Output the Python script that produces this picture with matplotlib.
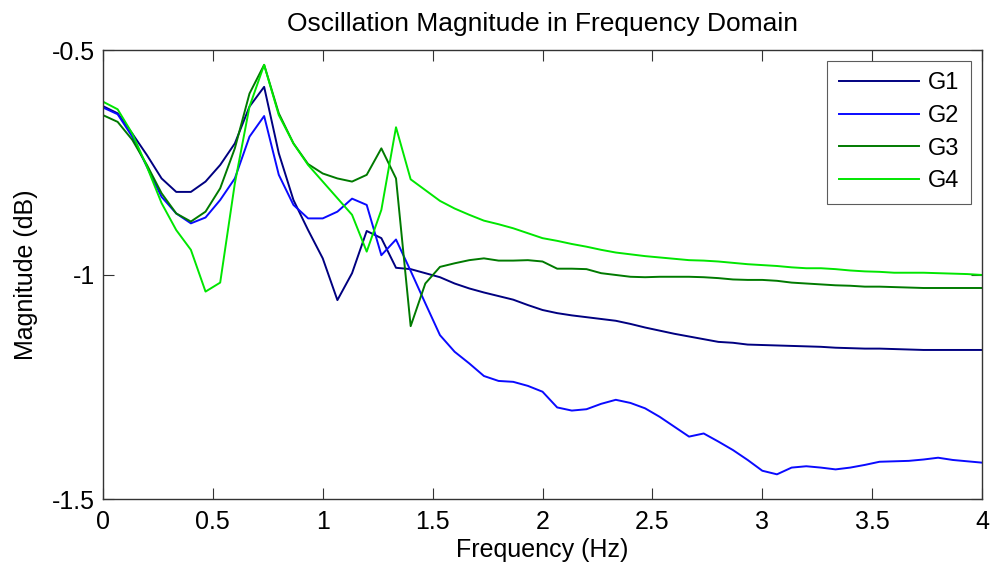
import numpy as np
import matplotlib
matplotlib.use('Agg')
import matplotlib.pyplot as plt

# frequency samples (1/15 Hz spacing, 0..4 Hz)
freq = np.arange(61) / 15.0

g1 = [-0.625, -0.641, -0.686, -0.734, -0.786, -0.816, -0.816, -0.793, -0.756, -0.708,
      -0.626, -0.582, -0.730, -0.834, -0.901, -0.964, -1.057, -0.997, -0.903, -0.919,
      -0.985, -0.988, -0.997, -1.006, -1.020, -1.031, -1.040, -1.048, -1.056, -1.068,
      -1.079, -1.086, -1.091, -1.095, -1.099, -1.103, -1.110, -1.118, -1.125, -1.132,
      -1.138, -1.144, -1.150, -1.152, -1.156, -1.157, -1.158, -1.159, -1.160, -1.161,
      -1.163, -1.164, -1.165, -1.165, -1.166, -1.167, -1.168, -1.168, -1.168, -1.168,
      -1.168]

g2 = [-0.628, -0.643, -0.693, -0.760, -0.827, -0.864, -0.886, -0.873, -0.834, -0.786,
      -0.693, -0.647, -0.778, -0.845, -0.875, -0.875, -0.860, -0.831, -0.845, -0.957,
      -0.922, -0.992, -1.064, -1.135, -1.172, -1.198, -1.226, -1.237, -1.239, -1.248,
      -1.261, -1.296, -1.303, -1.300, -1.288, -1.279, -1.286, -1.298, -1.317, -1.339,
      -1.361, -1.354, -1.372, -1.391, -1.413, -1.437, -1.445, -1.430, -1.427, -1.430,
      -1.434, -1.430, -1.424, -1.417, -1.416, -1.415, -1.412, -1.408, -1.413, -1.416,
      -1.419]

g3 = [-0.645, -0.660, -0.700, -0.756, -0.819, -0.864, -0.882, -0.860, -0.808, -0.719,
      -0.597, -0.533, -0.641, -0.708, -0.754, -0.775, -0.786, -0.793, -0.778, -0.719,
      -0.786, -1.115, -1.020, -0.983, -0.975, -0.968, -0.964, -0.969, -0.969, -0.968,
      -0.971, -0.987, -0.987, -0.988, -0.997, -1.001, -1.005, -1.006, -1.005, -1.005,
      -1.005, -1.006, -1.008, -1.011, -1.012, -1.012, -1.014, -1.018, -1.020, -1.022,
      -1.024, -1.025, -1.027, -1.027, -1.028, -1.029, -1.030, -1.030, -1.030, -1.030,
      -1.030]

g4 = [-0.615, -0.632, -0.686, -0.760, -0.841, -0.901, -0.945, -1.038, -1.018, -0.797,
      -0.626, -0.533, -0.645, -0.708, -0.756, -0.793, -0.830, -0.867, -0.949, -0.856,
      -0.672, -0.788, -0.812, -0.836, -0.853, -0.867, -0.880, -0.888, -0.897, -0.908,
      -0.919, -0.925, -0.932, -0.938, -0.945, -0.951, -0.955, -0.959, -0.962, -0.965,
      -0.968, -0.969, -0.971, -0.974, -0.977, -0.979, -0.981, -0.984, -0.986, -0.986,
      -0.988, -0.991, -0.993, -0.994, -0.996, -0.996, -0.996, -0.997, -0.998, -0.999,
      -1.001]

series = [g1, g2, g3, g4]
names = ['G1', 'G2', 'G3', 'G4']
colors = ['#000080', '#0a0aff', '#007a00', '#00e600']

plt.rcParams['font.family'] = ['Liberation Sans', 'DejaVu Sans']

fig = plt.figure(figsize=(9.93, 5.73), dpi=100)
ax = fig.add_axes([0.1037, 0.1291, 0.8853, 0.7836])

for vals, name, c in zip(series, names, colors):
    ax.plot(freq, vals, color=c, linewidth=1.4, label=name)

ax.set_xlim(0, 4)
ax.set_ylim(-1.5, -0.5)
ax.set_xticks(np.arange(0, 4.01, 0.5))
ax.set_xticklabels(['0', '0.5', '1', '1.5', '2', '2.5', '3', '3.5', '4'])
ax.set_yticks([-1.5, -1, -0.5])
ax.set_yticklabels(['-1.5', '-1', '-0.5'])
ax.tick_params(direction='in', length=8, width=0.8, top=True, right=True,
               labelsize=18, color='#333333')
ax.tick_params(axis='x', pad=8)
ax.tick_params(axis='y', pad=6)
for s in ax.spines.values():
    s.set_color('#333333')
    s.set_linewidth(1.0)

ax.set_title('Oscillation Magnitude in Frequency Domain', fontsize=19, pad=14)
ax.set_xlabel('Frequency (Hz)', fontsize=18, labelpad=3)
ax.set_ylabel('Magnitude (dB)', fontsize=18, labelpad=10)

leg = ax.legend(loc='upper right', fontsize=17, frameon=True, fancybox=False,
                edgecolor='#333333', handlelength=3.4, borderpad=0.5,
                labelspacing=0.45, borderaxespad=0.45, handletextpad=0.4)
leg.get_frame().set_linewidth(0.8)

fig.savefig('out.png', dpi=100)
